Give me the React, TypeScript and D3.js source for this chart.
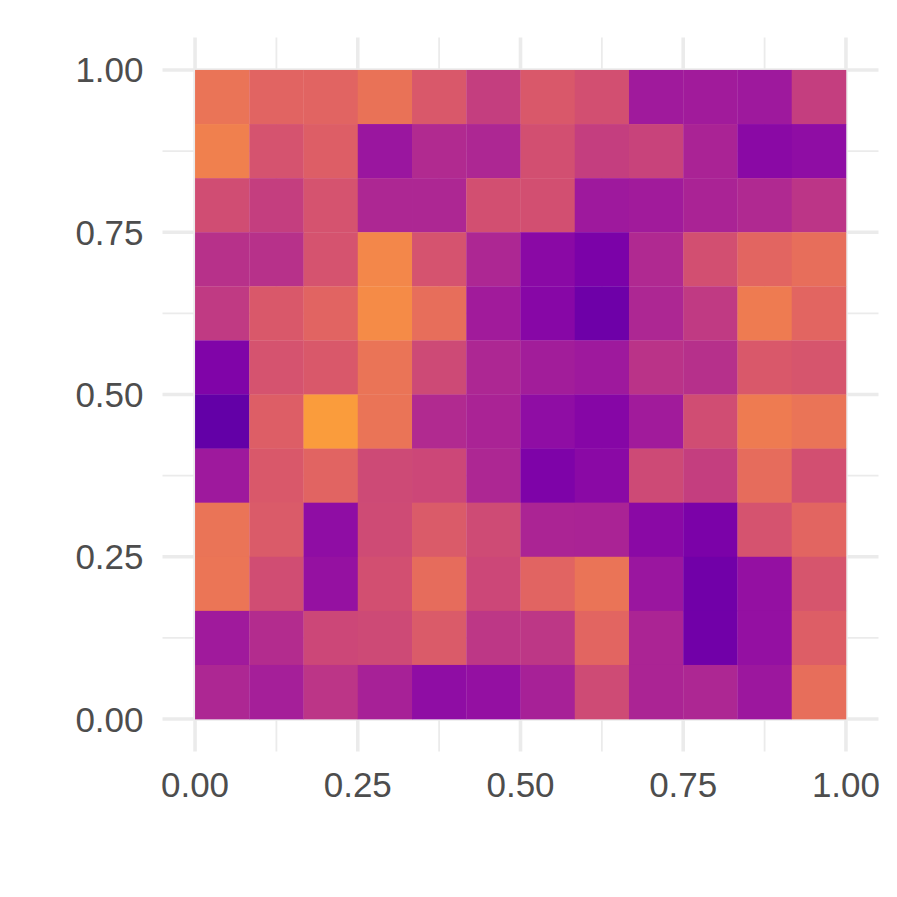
import React from "react";
import * as d3 from "d3";

// 12 x 12 grid of fill values (plasma colour position), rows listed from top (y = 1) to bottom (y = 0)
const row11 = [0.65, 0.60, 0.60, 0.645, 0.56, 0.47, 0.56, 0.53, 0.345, 0.35, 0.34, 0.47];
const row10 = [0.69, 0.54, 0.58, 0.33, 0.40, 0.39, 0.53, 0.47, 0.485, 0.375, 0.285, 0.30];
const row9 = [0.52, 0.47, 0.54, 0.39, 0.39, 0.53, 0.53, 0.34, 0.35, 0.375, 0.395, 0.44];
const row8 = [0.425, 0.425, 0.54, 0.71, 0.54, 0.39, 0.285, 0.245, 0.395, 0.53, 0.605, 0.63];
const row7 = [0.455, 0.56, 0.60, 0.72, 0.63, 0.35, 0.275, 0.21, 0.39, 0.455, 0.675, 0.605];
const row6 = [0.255, 0.54, 0.56, 0.65, 0.51, 0.39, 0.355, 0.34, 0.43, 0.42, 0.56, 0.55];
const row5 = [0.18, 0.58, 0.77, 0.65, 0.40, 0.375, 0.30, 0.27, 0.35, 0.52, 0.675, 0.65];
const row4 = [0.34, 0.56, 0.60, 0.51, 0.50, 0.39, 0.25, 0.285, 0.51, 0.47, 0.625, 0.53];
const row3 = [0.65, 0.57, 0.30, 0.515, 0.57, 0.515, 0.38, 0.375, 0.285, 0.245, 0.54, 0.605];
const row2 = [0.655, 0.52, 0.315, 0.53, 0.625, 0.50, 0.60, 0.65, 0.33, 0.215, 0.31, 0.55];
const row1 = [0.345, 0.41, 0.50, 0.51, 0.57, 0.445, 0.445, 0.605, 0.38, 0.215, 0.31, 0.58];
const row0 = [0.39, 0.36, 0.44, 0.37, 0.30, 0.31, 0.37, 0.515, 0.38, 0.39, 0.335, 0.63];

const rowsTopToBottom = [row11, row10, row9, row8, row7, row6, row5, row4, row3, row2, row1, row0];

const majorTicks = [0, 0.25, 0.5, 0.75, 1];
const minorTicks = [0.125, 0.375, 0.625, 0.875];
const tickLabels = ["0.00", "0.25", "0.50", "0.75", "1.00"];

export default function App() {
  const W = 897;
  const H = 897;
  const x = d3.scaleLinear().domain([-0.05, 1.05]).range([162.5, 878.5]);
  const y = d3.scaleLinear().domain([-0.05, 1.05]).range([751.5, 37.5]);
  const n = rowsTopToBottom.length;
  const m = rowsTopToBottom[0].length;
  const xb = d3.scaleBand<number>().domain(d3.range(m)).range([x(0), x(1)]).padding(0);
  const yb = d3.scaleBand<number>().domain(d3.range(n)).range([y(1), y(0)]).padding(0);
  const grid = "#ebebeb";
  const font = "'Liberation Sans', Arial, Helvetica, sans-serif";

  return (
    <svg width={W} height={H} style={{ position: "absolute", left: 0, top: 0, background: "#fff" }}>
      <rect width={W} height={H} fill="#fff" />
      {minorTicks.map((t) => (
        <g key={"mn" + t}>
          <line x1={x(-0.05)} x2={x(1.05)} y1={y(t)} y2={y(t)} stroke={grid} strokeWidth={1.8} />
          <line y1={y(-0.05)} y2={y(1.05)} x1={x(t)} x2={x(t)} stroke={grid} strokeWidth={1.8} />
        </g>
      ))}
      {majorTicks.map((t) => (
        <g key={"mj" + t}>
          <line x1={x(-0.05)} x2={x(1.05)} y1={y(t)} y2={y(t)} stroke={grid} strokeWidth={3.6} />
          <line y1={y(-0.05)} y2={y(1.05)} x1={x(t)} x2={x(t)} stroke={grid} strokeWidth={3.6} />
        </g>
      ))}
      {rowsTopToBottom.map((row, r) =>
        row.map((v, c) => (
          <rect
            key={r + "-" + c}
            x={xb(c)}
            y={yb(r)}
            width={xb.bandwidth() + 0.3}
            height={yb.bandwidth() + 0.3}
            fill={d3.interpolatePlasma(v)}
          />
        ))
      )}
      {majorTicks.map((t, i) => (
        <text
          key={"yl" + t}
          x={x(-0.05) - 19}
          y={y(t) + 12.5}
          textAnchor="end"
          fontFamily={font}
          fontSize={35}
          fill="#4d4d4d"
        >
          {tickLabels[i]}
        </text>
      ))}
      {majorTicks.map((t, i) => (
        <text
          key={"xl" + t}
          x={x(t)}
          y={797}
          textAnchor="middle"
          fontFamily={font}
          fontSize={35}
          fill="#4d4d4d"
        >
          {tickLabels[i]}
        </text>
      ))}
    </svg>
  );
}
